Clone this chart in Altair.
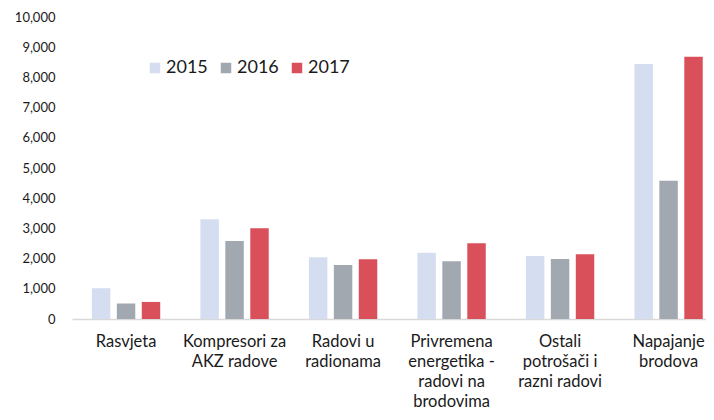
import altair as alt
import pandas as pd
import json

categories = ["Rasvjeta", "Kompresori za AKZ radove", "Radovi u radionama",
              "Privremena energetika - radovi na brodovima",
              "Ostali potrošači i razni radovi", "Napajanje brodova"]
label_lines = [["Rasvjeta"], ["Kompresori za", "AKZ radove"], ["Radovi u", "radionama"],
               ["Privremena", "energetika -", "radovi na", "brodovima"],
               ["Ostali", "potrošači i", "razni radovi"], ["Napajanje", "brodova"]]
years = ["2015", "2016", "2017"]
v2015 = [1020, 3300, 2045, 2195, 2085, 8445]
v2016 = [510, 2585, 1790, 1910, 1985, 4580]
v2017 = [565, 3005, 1975, 2505, 2145, 8685]
colors = ["#d5def0", "#a1a8b0", "#d9505a"]

rows = []
for i, c in enumerate(categories):
    for y, vals in zip(years, [v2015, v2016, v2017]):
        rows.append({"cat": c, "year": y, "value": vals[i]})
df = pd.DataFrame(rows)

lab_map = json.dumps({c: l for c, l in zip(categories, label_lines)}, ensure_ascii=False)
FONT = "Lato"

chart = alt.Chart(df).mark_bar().encode(
    x=alt.X("cat:N", sort=categories, title=None,
            scale=alt.Scale(paddingInner=0.37, paddingOuter=0.1065, align=0.86),
            axis=alt.Axis(labelAngle=0, ticks=False, domainColor="#d9d9d9", domainWidth=1.5,
                          labelFont=FONT, labelFontSize=16.5, labelColor="#1a1a1a",
                          labelPadding=22, labelLineHeight=20.3, labelBaseline="middle",
                          labelExpr=f"{lab_map}[datum.label]")),
    xOffset=alt.XOffset("year:N", sort=years, scale=alt.Scale(paddingInner=0.26, paddingOuter=0)),
    y=alt.Y("value:Q", title=None,
            scale=alt.Scale(domain=[0, 10000]),
            axis=alt.Axis(values=list(range(0, 10001, 1000)), format=",.0f", grid=False,
                          domain=False, ticks=False, labelPadding=17,
                          labelFont=FONT, labelFontSize=13, labelColor="#1a1a1a")),
    color=alt.Color("year:N", sort=years, title=None,
                    scale=alt.Scale(domain=years, range=colors),
                    legend=alt.Legend(orient="none", legendX=74, legendY=42, direction="horizontal",
                                      symbolType="square", symbolSize=110, symbolStrokeWidth=0,
                                      labelFont=FONT, labelFontSize=18, labelColor="#1a1a1a",
                                      columnPadding=9, labelOffset=2)),
).properties(
    width=634, height=302,
    autosize=alt.AutoSizeParams(type="none"),
    padding={"left": 64, "top": 9, "right": 0, "bottom": 93},
).configure_view(stroke=None)

chart.save("out.html", embed_options={"renderer": "svg", "actions": False})
